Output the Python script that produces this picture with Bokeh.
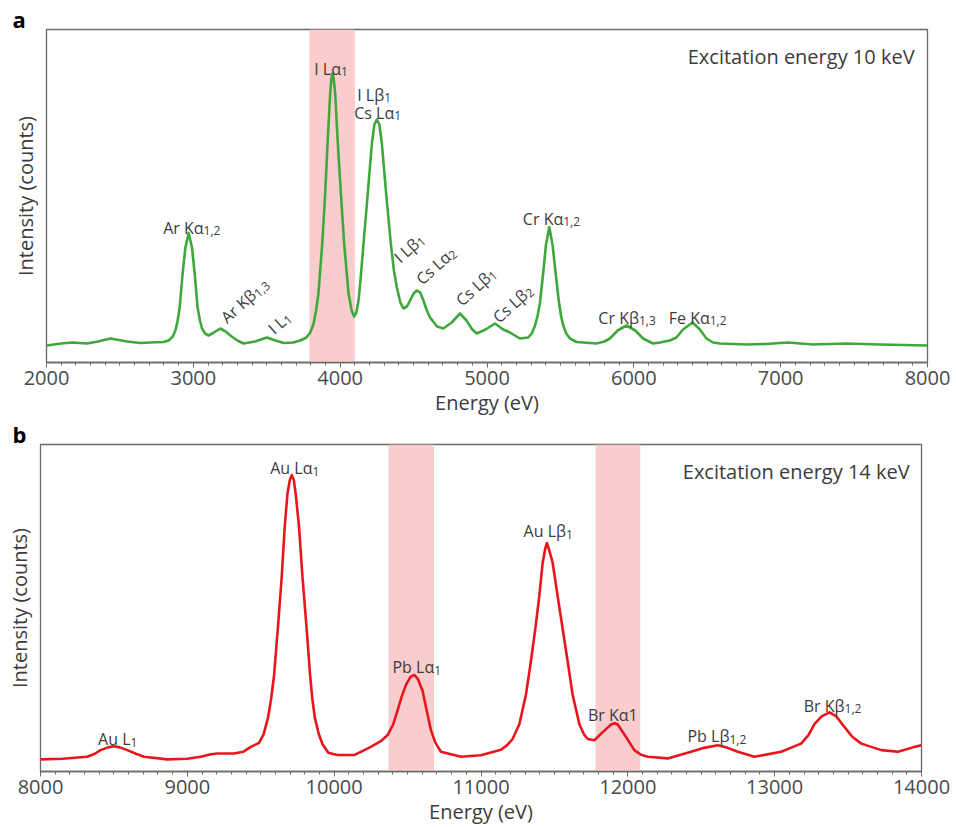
import math
from bokeh.plotting import figure
from bokeh.models import Range1d, BoxAnnotation, FixedTicker, SingleIntervalTicker, ColumnDataSource
from bokeh.core.properties import value
from bokeh.embed import file_html
from bokeh.resources import INLINE

# ---------------- data: panel a (excitation 10 keV) ----------------
energy_a = [2000, 2100, 2175, 2277, 2350, 2435, 2549, 2640, 2707, 2798,
            2832, 2860, 2878, 2893, 2907, 2927, 2946, 2968, 2991, 3009,
            3029, 3045, 3059, 3080, 3104, 3140, 3184, 3220, 3252, 3300,
            3342, 3420, 3501, 3560, 3615, 3680, 3728, 3770, 3796, 3818,
            3836, 3852, 3878, 3898, 3914, 3932, 3940, 3948, 3956, 3966,
            3984, 4005, 4027, 4057, 4078, 4095, 4110, 4125, 4140, 4159,
            4188, 4216, 4233, 4250, 4267, 4284, 4313, 4345, 4366, 4386,
            4410, 4431, 4455, 4476, 4500, 4522, 4545, 4567, 4590, 4612,
            4660, 4703, 4760, 4816, 4860, 4900, 4930, 4990, 5054, 5110,
            5156, 5224, 5281, 5305, 5327, 5345, 5361, 5383, 5401, 5424,
            5447, 5467, 5490, 5505, 5519, 5540, 5565, 5610, 5655, 5746,
            5800, 5837, 5890, 5950, 6010, 6063, 6131, 6177, 6245, 6290,
            6335, 6400, 6450, 6494, 6540, 6585, 6766, 6900, 7050, 7220,
            7447, 7673, 8000]
intensity_a = [17, 19, 20, 19, 21, 24, 21, 19.5, 20, 20.5,
               22, 26, 32, 42, 55, 89, 115, 129.5, 115, 89,
               55, 42, 34, 29, 27, 30, 34, 31, 27, 22,
               19, 21, 25, 22, 19.5, 20, 22, 25, 30, 38,
               52, 69, 119, 169, 219, 269, 284, 289, 284, 269,
               219, 169, 119, 69, 52, 46, 50, 62, 85, 119,
               169, 219, 238, 243, 238, 219, 169, 119, 92, 75,
               60, 54, 56, 62, 69, 72, 70, 62, 52, 45,
               36, 34, 40, 49, 42, 33, 29, 33, 39, 33,
               30, 24, 25, 29, 37, 47, 60, 90, 117, 135.5,
               117, 90, 60, 46, 37, 29, 24, 20.5, 20, 19,
               21, 24, 32, 37, 32, 24, 19, 20, 22, 25,
               33, 40, 33, 24, 20, 19, 18, 18.5, 20, 18,
               19, 18, 17]
band_a = [(3790, 4100)]

# ---------------- data: panel b (excitation 14 keV) ----------------
energy_b = [8000, 8150, 8318, 8370, 8409, 8460, 8500, 8540, 8591, 8650,
            8705, 8864, 9000, 9091, 9160, 9204, 9318, 9380, 9432, 9488,
            9520, 9550, 9570, 9591, 9618, 9643, 9663, 9682, 9698, 9711,
            9725, 9738, 9761, 9784, 9811, 9836, 9852, 9868, 9895, 9920,
            9960, 10022, 10136, 10250, 10320, 10364, 10400, 10432, 10460, 10489,
            10520, 10545, 10570, 10602, 10630, 10659, 10690, 10727, 10863, 10999,
            11136, 11180, 11215, 11261, 11306, 11340, 11370, 11397, 11420, 11437,
            11449, 11462, 11488, 11522, 11556, 11590, 11624, 11670, 11700, 11727,
            11772, 11829, 11886, 11910, 11931, 11988, 12044, 12090, 12135, 12272,
            12431, 12520, 12613, 12680, 12749, 12862, 13044, 13180, 13230, 13272,
            13320, 13374, 13420, 13476, 13530, 13590, 13726, 13840, 13953, 14000]
intensity_b = [12.3, 13, 15, 18, 21.7, 24.5, 25.7, 24.5, 21.7, 18,
               15, 12.3, 13, 15, 17.5, 18.3, 18.3, 20, 25, 29,
               38, 55, 73, 98, 148, 198, 248, 282, 296, 301,
               296, 282, 248, 198, 148, 98, 73, 55, 38, 28,
               19, 16.7, 16.7, 25, 31, 37, 47, 62, 76, 88,
               96, 98, 94, 82, 62, 42, 29, 20, 15, 16.5,
               22, 27, 33, 48, 78, 112, 145, 178, 212, 226,
               232, 226, 212, 178, 145, 112, 78, 48, 38, 33,
               31.7, 40, 47.7, 49, 47.7, 35, 21.7, 17, 15, 13.3,
               20, 24, 26.7, 24, 20, 15, 20, 28.3, 37, 48.3,
               56, 60, 56, 45, 35, 28.3, 21.7, 20, 25, 26.7]
band_b = [(10370, 10680), (11780, 12085)]

# ---------------- peak labels: (main, subscript, energy, intensity, angle) ----------------
labels_a_main = ["Ar K\u03b1", "Ar K\u03b2", "I L", "I L\u03b1", "I L\u03b2", "Cs L\u03b1",
                 "I L\u03b2", "Cs L\u03b1", "Cs L\u03b2", "Cs L\u03b2",
                 "Cr K\u03b1", "Cr K\u03b2", "Fe K\u03b1"]
labels_a_sub = ["1,2", "1,3", "1", "1", "1", "1", "1", "2", "1", "2", "1,2", "1,3", "1,2"]
labels_a_x = [3070, 3410, 3612, 4005, 4300, 4368, 4520, 4735, 5007, 5259, 5519, 6035, 6517]
labels_a_y = [135, 70, 43, 294, 268, 250, 121, 108, 87, 70, 144, 45, 45]
labels_a_angle = [0, 42, 42, 0, 0, 0, 42, 42, 42, 42, 0, 0, 0]

labels_b_main = ["Au L", "Au L\u03b1", "Pb L\u03b1", "Au L\u03b2", "Br K\u03b11", "Pb L\u03b2", "Br K\u03b2"]
labels_b_sub = ["1", "1", "1", "1", "", "1,2", "1,2"]
labels_b_x = [8613, 9852, 10681, 11579, 12067, 12692, 13476]
labels_b_y = [33, 308, 106, 244, 57, 36, 67]
labels_b_angle = [0, 0, 0, 0, 0, 0, 0]

FONT = "Open Sans"
TXT = "#3c3c3c"
FRAME = "#6a6a6a"


def panel(energy, intensity, xr, yr, bands, color, mains, subs, lx, ly, langle,
          note, note_xy, letter, geom):
    width, height, bl, br, bt, bb = geom
    p = figure(width=width, height=height, x_range=Range1d(*xr), y_range=Range1d(*yr),
               output_backend="svg", toolbar_location=None, tools="",
               min_border_left=bl, min_border_right=br, min_border_top=bt, min_border_bottom=bb)
    p.grid.visible = False
    p.background_fill_color = "white"
    p.border_fill_color = "white"
    p.outline_line_color = FRAME
    p.outline_line_width = 1.3

    # panel letter as a left-aligned title pulled to the page margin
    p.title.text = letter
    p.title.align = "left"
    p.title.offset = -(bl - 12)
    p.title.text_font = FONT
    p.title.text_font_style = "bold"
    p.title.text_font_size = "22px"
    p.title.text_color = "black"
    p.title.standoff = -8

    for (lo, hi) in bands:
        p.add_layout(BoxAnnotation(left=lo, right=hi, fill_color="#f9cdcd", fill_alpha=1.0,
                                   line_color=None, level="underlay"))

    p.line(energy, intensity, line_color=color, line_width=2.6, line_join="round")

    # peak labels: main text ends at anchor, subscript starts at anchor
    offx = [3.2 * math.sin(math.radians(a)) for a in langle]
    offy = [3.2 * math.cos(math.radians(a)) for a in langle]
    src = ColumnDataSource(dict(x=lx, y=ly, main=mains, sub=subs, angle=langle, ox=offx, oy=offy))
    p.text(x="x", y="y", text="main", angle="angle", angle_units="deg", source=src,
           text_align="right", text_baseline="alphabetic", text_font=value(FONT),
           text_font_size="16px", text_color=TXT)
    p.text(x="x", y="y", text="sub", angle="angle", angle_units="deg", source=src,
           x_offset="ox", y_offset="oy",
           text_align="left", text_baseline="alphabetic", text_font=value(FONT),
           text_font_size="12px", text_color=TXT)

    p.text(x=[note_xy[0]], y=[note_xy[1]], text=[note], text_align="right",
           text_baseline="alphabetic", text_font=value(FONT), text_font_size="20px",
           text_color=TXT)

    xa = p.xaxis[0]
    xa.ticker = SingleIntervalTicker(interval=1000, num_minor_ticks=10)
    xa.axis_line_color = FRAME
    xa.axis_line_width = 1.3
    xa.major_tick_line_color = FRAME
    xa.minor_tick_line_color = FRAME
    xa.major_tick_in = 0
    xa.major_tick_out = 5
    xa.minor_tick_in = 0
    xa.minor_tick_out = 3
    xa.major_label_standoff = 3
    xa.major_label_text_font = FONT
    xa.major_label_text_font_size = "20px"
    xa.major_label_text_color = "#4a4a4a"
    xa.axis_label = "Energy (eV)"
    xa.axis_label_text_font = FONT
    xa.axis_label_text_font_size = "20px"
    xa.axis_label_text_font_style = "normal"
    xa.axis_label_text_color = TXT
    xa.axis_label_standoff = 1

    ya = p.yaxis[0]
    ya.ticker = FixedTicker(ticks=[])
    ya.axis_line_color = None
    ya.major_tick_out = 0
    ya.major_tick_in = 0
    ya.minor_tick_out = 0
    ya.major_label_standoff = 0
    ya.axis_label = "Intensity (counts)"
    ya.axis_label_text_font = FONT
    ya.axis_label_text_font_size = "20px"
    ya.axis_label_text_font_style = "normal"
    ya.axis_label_text_color = TXT
    ya.axis_label_standoff = 8
    return p


assert len(energy_a) == len(intensity_a)
assert len(energy_b) == len(intensity_b)

pa = panel(energy_a, intensity_a, (2000, 8000), (0, 333), band_a, "#3fa83a",
           labels_a_main, labels_a_sub, labels_a_x, labels_a_y, labels_a_angle,
           "Excitation energy 10 keV", (7912, 306), "a", (956, 420, 46, 29, 29, 58))
pb = panel(energy_b, intensity_b, (8000, 14000), (0, 332), band_b, "#e8161c",
           labels_b_main, labels_b_sub, labels_b_x, labels_b_y, labels_b_angle,
           "Excitation energy 14 keV", (13919, 305), "b", (956, 407, 40, 35, 23, 52))

open("out.html", "w").write(file_html([pa, pb], INLINE))
